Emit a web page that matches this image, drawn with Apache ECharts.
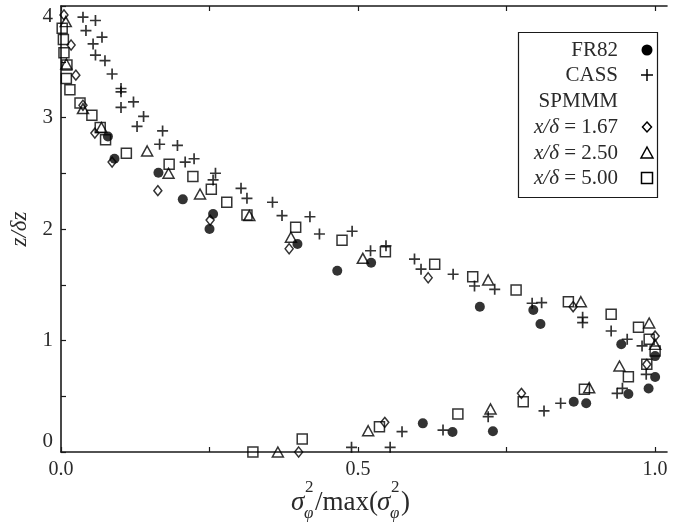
<!DOCTYPE html>
<html>
<head>
<meta charset="utf-8">
<script src="https://cdn.jsdelivr.net/npm/echarts@6/dist/echarts.min.js"></script>
<style>html,body{margin:0;padding:0;background:#fff;}#c{width:679px;height:522px;}</style>
</head>
<body>
<div id="c"></div>
<script>
// ---- data (x = sigma^2/max(sigma^2), y = z/delta z) ----
const fr82 = [[0.079,2.83],[0.090,2.63],[0.164,2.505],[0.205,2.266],[0.256,2.135],[0.250,2.00],[0.398,1.866],[0.465,1.626],[0.522,1.698],[0.705,1.303],[0.795,1.274],[0.807,1.148],[0.943,0.967],[1.0,0.86],[1.0,0.672],[0.989,0.57],[0.955,0.52],[0.884,0.437],[0.863,0.451],[0.727,0.186],[0.659,0.179],[0.609,0.257]];
const cass = [[0.037,3.90],[0.058,3.87],[0.042,3.78],[0.069,3.72],[0.054,3.66],[0.058,3.56],[0.074,3.51],[0.086,3.39],[0.101,3.26],[0.101,3.23],[0.122,3.14],[0.101,3.09],[0.139,3.01],[0.128,2.92],[0.171,2.88],[0.166,2.76],[0.196,2.75],[0.209,2.60],[0.224,2.63],[0.260,2.50],[0.256,2.44],[0.303,2.365],[0.313,2.275],[0.356,2.24],[0.372,2.12],[0.419,2.11],[0.435,1.955],[0.490,1.98],[0.521,1.805],[0.547,1.85],[0.595,1.73],[0.606,1.64],[0.660,1.594],[0.696,1.489],[0.730,1.459],[0.793,1.334],[0.809,1.339],[0.878,1.208],[0.878,1.16],[0.926,1.085],[0.953,1.011],[0.978,0.951],[0.985,0.697],[0.945,0.571],[0.936,0.526],[0.841,0.437],[0.813,0.368],[0.719,0.317],[0.643,0.197],[0.574,0.182],[0.489,0.042],[0.554,0.042]];
const spm167 = [[0.005,3.92],[0.017,3.65],[0.025,3.38],[0.037,3.11],[0.057,2.86],[0.086,2.60],[0.163,2.344],[0.251,2.08],[0.384,1.823],[0.618,1.563],[0.862,1.303],[1.0,1.04],[0.986,0.786],[0.775,0.526],[0.545,0.266],[0.400,0.0]];
const spm250 = [[0.008,3.86],[0.009,3.48],[0.037,3.08],[0.068,2.91],[0.145,2.70],[0.181,2.50],[0.234,2.314],[0.317,2.12],[0.387,1.926],[0.508,1.737],[0.719,1.543],[0.875,1.348],[0.990,1.157],[1.0,0.965],[0.940,0.771],[0.889,0.577],[0.723,0.386],[0.517,0.191],[0.365,0.0]];
const spm500 = [[0.002,3.80],[0.004,3.70],[0.005,3.58],[0.010,3.47],[0.009,3.35],[0.015,3.25],[0.032,3.13],[0.052,3.02],[0.066,2.91],[0.075,2.80],[0.110,2.68],[0.182,2.58],[0.222,2.47],[0.253,2.356],[0.279,2.24],[0.313,2.126],[0.395,2.015],[0.473,1.90],[0.546,1.797],[0.629,1.683],[0.693,1.572],[0.766,1.453],[0.854,1.348],[0.926,1.235],[0.972,1.118],[0.990,1.011],[1.0,0.905],[0.986,0.786],[0.955,0.675],[0.881,0.562],[0.778,0.451],[0.668,0.341],[0.536,0.227],[0.406,0.117],[0.323,0.0]];

const xTickValues = [0, 0.25, 0.5, 0.75, 1.0];
const xLabelValues = [0, 0.5, 1.0];
const yTickValues = [0, 0.5, 1, 1.5, 2, 2.5, 3, 3.5, 4];
const yLabelValues = [0, 1, 2, 3, 4];
const legendLabels = ['FR82', 'CASS', 'SPMMM', '{i|x/δ} = 1.67', '{i|x/δ} = 2.50', '{i|x/δ} = 5.00'];

const SERIF = "'Times New Roman', 'Liberation Serif', serif";
const INK = '#1a1a1a';
const TXT = '#2a2a2a';

const chart = echarts.init(document.getElementById('c'), null, {renderer: 'canvas'});

const openStyle = {color: 'transparent', borderColor: '#000', borderWidth: 1.5};
const plusPath = 'path://M0,5L10,5M5,0L5,10';

// legend graphics
const legendRowsY = [50, 75, 101, 127, 153, 178];
const legendGraphics = [{
  type: 'rect', shape: {x: 518.5, y: 32.5, width: 139, height: 165},
  style: {fill: '#fff', stroke: INK, lineWidth: 1.2}, z: 100
}];
legendLabels.forEach((t, i) => {
  legendGraphics.push({
    type: 'text', x: 618, y: legendRowsY[i], z: 101,
    style: {text: t, fill: TXT, fontFamily: SERIF, fontSize: 21, align: 'right', verticalAlign: 'middle',
      rich: {i: {fontStyle: 'italic', fontSize: 21, fontFamily: SERIF, fill: TXT}}}
  });
});
const lx = 647;
legendGraphics.push(
  {type: 'circle', shape: {cx: lx, cy: legendRowsY[0], r: 5.5}, style: {fill: '#000'}, z: 101},
  {type: 'line', shape: {x1: lx - 6, y1: legendRowsY[1], x2: lx + 6, y2: legendRowsY[1]}, style: {stroke: '#000', lineWidth: 1.5}, z: 101},
  {type: 'line', shape: {x1: lx, y1: legendRowsY[1] - 6, x2: lx, y2: legendRowsY[1] + 6}, style: {stroke: '#000', lineWidth: 1.5}, z: 101},
  {type: 'polygon', shape: {points: [[lx, legendRowsY[3] - 5], [lx + 4.5, legendRowsY[3]], [lx, legendRowsY[3] + 5], [lx - 4.5, legendRowsY[3]]]}, style: {fill: 'none', stroke: '#000', lineWidth: 1.5}, z: 101},
  {type: 'polygon', shape: {points: [[lx, legendRowsY[4] - 6], [lx + 6, legendRowsY[4] + 5], [lx - 6, legendRowsY[4] + 5]]}, style: {fill: 'none', stroke: '#000', lineWidth: 1.5}, z: 101},
  {type: 'rect', shape: {x: lx - 5.5, y: legendRowsY[5] - 5.5, width: 11, height: 11}, style: {fill: 'none', stroke: '#000', lineWidth: 1.5}, z: 101}
);

// x-axis title: sigma_phi^2 / max(sigma_phi^2)
const tY = 503, fs = 27, fsS = 17;
const titleParts = [
  {t: 'σ', x: 291, y: tY, it: true, s: fs},
  {t: '2', x: 305, y: tY - 15, it: false, s: fsS},
  {t: 'φ', x: 304, y: tY + 11, it: true, s: fsS},
  {t: '/max(', x: 315, y: tY, it: false, s: fs},
  {t: 'σ', x: 377, y: tY, it: true, s: fs},
  {t: '2', x: 391, y: tY - 15, it: false, s: fsS},
  {t: 'φ', x: 390, y: tY + 11, it: true, s: fsS},
  {t: ')', x: 401, y: tY, it: false, s: fs}
];
const titleGraphics = titleParts.map(p => ({
  type: 'text', x: p.x, y: p.y,
  style: {text: p.t, fontFamily: SERIF, fontSize: p.s, fontStyle: p.it ? 'italic' : 'normal', fill: TXT, align: 'left', verticalAlign: 'middle'}
}));

const axisCommon = {
  type: 'value', min: 0, max: 1.02,
  axisLine: {show: true, onZero: false, lineStyle: {color: INK, width: 1.6}},
  axisTick: {show: true, inside: true, length: 5, lineStyle: {color: INK, width: 1.2}, customValues: xTickValues},
  splitLine: {show: false}
};

chart.setOption({
  animation: false,
  backgroundColor: '#fff',
  textStyle: {fontFamily: SERIF},
  grid: {left: 57, right: 12, top: 6, bottom: 70, containLabel: false},
  xAxis: [
    Object.assign({}, axisCommon, {
      position: 'bottom',
      axisLabel: {show: true, customValues: xLabelValues, formatter: v => v.toFixed(1), color: TXT,
        fontFamily: SERIF, fontSize: 20, margin: 8}
    }),
    Object.assign({}, axisCommon, {
      position: 'top',
      axisLabel: {show: false}
    })
  ],
  yAxis: {
    type: 'value', min: 0, max: 4,
    name: 'z/δz', nameLocation: 'middle', nameGap: 30,
    nameTextStyle: {fontFamily: SERIF, fontStyle: 'italic', fontSize: 23, color: TXT},
    axisLine: {show: true, onZero: false, lineStyle: {color: INK, width: 1.6}},
    axisTick: {show: true, inside: true, length: 5, lineStyle: {color: INK, width: 1.2}, customValues: yTickValues},
    axisLabel: {show: true, customValues: yLabelValues, color: TXT, fontFamily: SERIF, fontSize: 21, margin: 8,
      verticalAlignMinLabel: 'bottom', verticalAlignMaxLabel: 'top'},
    splitLine: {show: false}
  },
  series: [
    {name: 'FR82', type: 'scatter', data: fr82, symbol: 'circle', symbolSize: 10, clip: false,
      itemStyle: {color: '#000'}, z: 5},
    {name: 'CASS', type: 'scatter', data: cass, symbol: plusPath, symbolSize: 11, clip: false,
      itemStyle: {color: 'none', borderColor: '#000', borderWidth: 1.7}, z: 5},
    {name: 'x/δ = 1.67', type: 'scatter', data: spm167, symbol: 'diamond', symbolSize: [8, 10], clip: false,
      itemStyle: openStyle, z: 5},
    {name: 'x/δ = 2.50', type: 'scatter', data: spm250, symbol: 'triangle', symbolSize: [11, 10], clip: false,
      itemStyle: openStyle, z: 5},
    {name: 'x/δ = 5.00', type: 'scatter', data: spm500, symbol: 'rect', symbolSize: 10, clip: false,
      itemStyle: openStyle, z: 5}
  ],
  graphic: legendGraphics.concat(titleGraphics)
});
</script>
</body>
</html>
